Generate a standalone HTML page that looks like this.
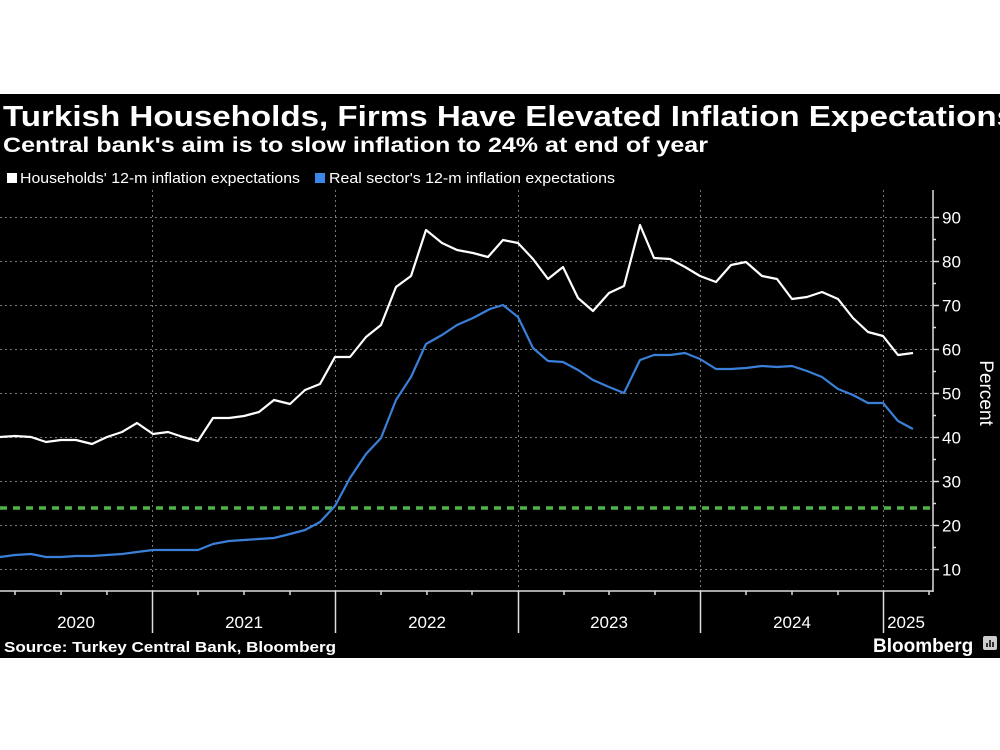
<!DOCTYPE html>
<html><head><meta charset="utf-8"><style>
html,body{margin:0;padding:0;background:#fff;width:1000px;height:750px;overflow:hidden}
svg{display:block}
text{font-family:"Liberation Sans",sans-serif}
</style></head><body>
<svg width="1000" height="750" viewBox="0 0 1000 750">
<rect x="0" y="0" width="1000" height="750" fill="#fff"/>
<rect x="0" y="94" width="1000" height="564" fill="#000"/>
<text x="3" y="126" font-size="29" font-weight="bold" fill="#fff" textLength="1012" lengthAdjust="spacingAndGlyphs">Turkish Households, Firms Have Elevated Inflation Expectations</text>
<text x="3" y="152" font-size="21" font-weight="bold" fill="#fff" textLength="705" lengthAdjust="spacingAndGlyphs">Central bank's aim is to slow inflation to 24% at end of year</text>
<rect x="7" y="173" width="10" height="10" fill="#fff"/>
<text x="20" y="183" font-size="15" fill="#fff" textLength="280" lengthAdjust="spacingAndGlyphs">Households' 12-m inflation expectations</text>
<rect x="315" y="173" width="10" height="10" fill="#3a86e8"/>
<text x="329" y="183" font-size="15" fill="#fff" textLength="286" lengthAdjust="spacingAndGlyphs">Real sector's 12-m inflation expectations</text>
<g stroke="#777" stroke-width="1" stroke-dasharray="2,3">
<line x1="0" y1="217.5" x2="933" y2="217.5"/><line x1="0" y1="261.5" x2="933" y2="261.5"/>
<line x1="0" y1="305.5" x2="933" y2="305.5"/><line x1="0" y1="349.5" x2="933" y2="349.5"/>
<line x1="0" y1="393.5" x2="933" y2="393.5"/><line x1="0" y1="437.5" x2="933" y2="437.5"/>
<line x1="0" y1="481.5" x2="933" y2="481.5"/><line x1="0" y1="525.5" x2="933" y2="525.5"/>
<line x1="0" y1="569.5" x2="933" y2="569.5"/>
<line x1="152.5" y1="190" x2="152.5" y2="591"/><line x1="335.5" y1="190" x2="335.5" y2="591"/>
<line x1="518.5" y1="190" x2="518.5" y2="591"/><line x1="700.5" y1="190" x2="700.5" y2="591"/>
<line x1="883.5" y1="190" x2="883.5" y2="591"/>
</g>
<line x1="0" y1="508" x2="933" y2="508" stroke="#4fb34a" stroke-width="3.5" stroke-dasharray="7,6"/>
<polyline fill="none" stroke="#fff" stroke-width="2.2" stroke-linejoin="round" points="0,437 15,436 31,437 46,442 61,440 76,440 92,444 107,437 122,432 137,423 153,434 168,432 183,437 198,441 213,418 229,418 244,416 259,412 274,400 290,404 305,390 320,384 335,357 350,357 366,337 381,325 396,287 411,276 426,230 442,243 457,250 473,253 488,257 503,240 518,243 533,259 548,279 563,267 578,298 593,311 609,293 624,286 640,225 654,258 670,259 685,267 700,276 716,282 731,265 746,262 762,276 777,279 792,299 807,297 822,292 838,299 853,318 868,332 883,336 898,355 913,353"/>
<polyline fill="none" stroke="#3a7fd8" stroke-width="2.2" stroke-linejoin="round" points="0,557 15,555 31,554 46,557 61,557 76,556 92,556 107,555 122,554 137,552 153,550 168,550 183,550 198,550 213,544 229,541 244,540 259,539 274,538 290,534 305,530 320,522 335,506 350,478 366,454 381,438 396,400 411,377 426,344 442,335 457,325 473,318 490,309 503,305 518,317 533,348 548,361 563,362 578,370 593,380 609,387 624,393 640,360 654,355 670,355 685,353 700,359 716,369 731,369 746,368 762,366 777,367 792,366 807,371 822,377 838,389 853,395 868,403 883,403 898,421 913,429"/>
<g stroke="#ddd" stroke-width="1.5">
<line x1="933" y1="190" x2="933" y2="592"/>
<line x1="0" y1="591" x2="933" y2="591"/>
<line x1="933" y1="217.5" x2="939" y2="217.5"/><line x1="933" y1="261.5" x2="939" y2="261.5"/>
<line x1="933" y1="305.5" x2="939" y2="305.5"/><line x1="933" y1="349.5" x2="939" y2="349.5"/>
<line x1="933" y1="393.5" x2="939" y2="393.5"/><line x1="933" y1="437.5" x2="939" y2="437.5"/>
<line x1="933" y1="481.5" x2="939" y2="481.5"/><line x1="933" y1="525.5" x2="939" y2="525.5"/>
<line x1="933" y1="569.5" x2="939" y2="569.5"/>
<line x1="933" y1="239.5" x2="936" y2="239.5"/><line x1="933" y1="283.5" x2="936" y2="283.5"/>
<line x1="933" y1="327.5" x2="936" y2="327.5"/><line x1="933" y1="371.5" x2="936" y2="371.5"/>
<line x1="933" y1="415.5" x2="936" y2="415.5"/><line x1="933" y1="459.5" x2="936" y2="459.5"/>
<line x1="933" y1="503.5" x2="936" y2="503.5"/><line x1="933" y1="547.5" x2="936" y2="547.5"/>
<line x1="152.5" y1="591" x2="152.5" y2="633"/><line x1="335.5" y1="591" x2="335.5" y2="633"/>
<line x1="518.5" y1="591" x2="518.5" y2="633"/><line x1="700.5" y1="591" x2="700.5" y2="633"/>
<line x1="883.5" y1="591" x2="883.5" y2="633"/>
<line x1="15" y1="591" x2="15" y2="595"/><line x1="61" y1="591" x2="61" y2="595"/><line x1="107" y1="591" x2="107" y2="595"/>
<line x1="198" y1="591" x2="198" y2="595"/><line x1="244" y1="591" x2="244" y2="595"/><line x1="290" y1="591" x2="290" y2="595"/>
<line x1="381" y1="591" x2="381" y2="595"/><line x1="427" y1="591" x2="427" y2="595"/><line x1="472" y1="591" x2="472" y2="595"/>
<line x1="564" y1="591" x2="564" y2="595"/><line x1="609" y1="591" x2="609" y2="595"/><line x1="655" y1="591" x2="655" y2="595"/>
<line x1="746" y1="591" x2="746" y2="595"/><line x1="792" y1="591" x2="792" y2="595"/><line x1="838" y1="591" x2="838" y2="595"/>
<line x1="929" y1="591" x2="929" y2="595"/>
</g>
<g font-size="17" fill="#fff">
<text x="942" y="223.5">90</text><text x="942" y="267.5">80</text><text x="942" y="311.5">70</text>
<text x="942" y="355.5">60</text><text x="942" y="399.5">50</text><text x="942" y="443.5">40</text>
<text x="942" y="487.5">30</text><text x="942" y="531.5">20</text><text x="942" y="575.5">10</text>
</g>
<g font-size="17" fill="#fff" text-anchor="middle">
<text x="76" y="628">2020</text><text x="244" y="628">2021</text><text x="427" y="628">2022</text>
<text x="609" y="628">2023</text><text x="792" y="628">2024</text><text x="906" y="628">2025</text>
</g>
<text x="0" y="0" font-size="19" fill="#fff" text-anchor="middle" transform="translate(980,393) rotate(90)">Percent</text>
<text x="4" y="652" font-size="15" font-weight="bold" fill="#fff" textLength="332" lengthAdjust="spacingAndGlyphs">Source: Turkey Central Bank, Bloomberg</text>
<text x="873" y="652" font-size="19" font-weight="bold" fill="#fff">Bloomberg</text>
<rect x="983" y="636" width="14" height="14" rx="2" fill="#ccc"/>
<g stroke="#000" stroke-width="1.5"><line x1="987" y1="647" x2="987" y2="643"/><line x1="990" y1="647" x2="990" y2="640"/><line x1="993" y1="647" x2="993" y2="642"/></g>
</svg>
</body></html>
